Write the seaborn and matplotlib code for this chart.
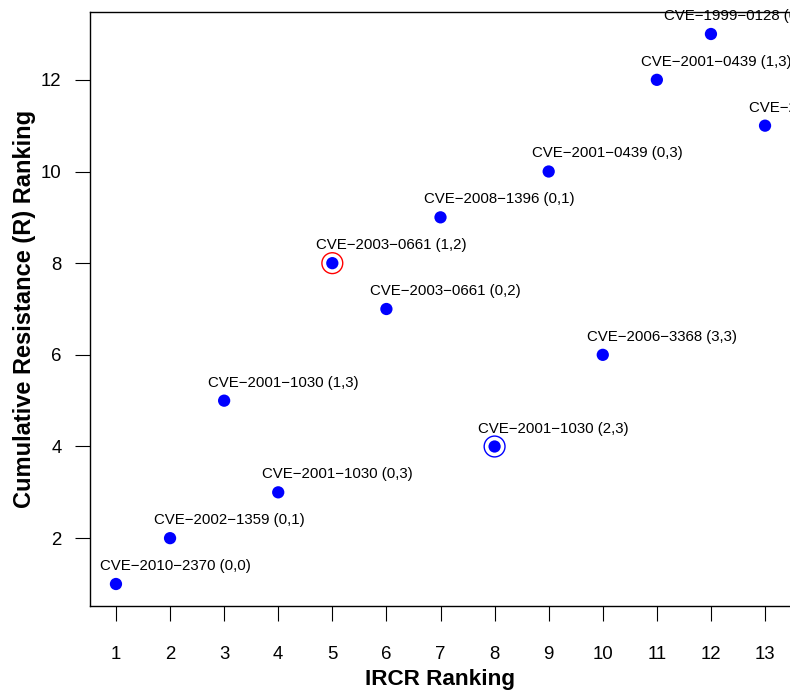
import matplotlib
matplotlib.use("Agg")
import matplotlib.pyplot as plt
import seaborn as sns
import pandas as pd

ircr_rank = [1, 2, 3, 4, 5, 6, 7, 8, 9, 10, 11, 12, 13]
resistance_rank = [1, 2, 5, 3, 8, 7, 9, 4, 10, 6, 12, 13, 11]
labels = [
    "CVE\u22122010\u22122370 (0,0)",
    "CVE\u22122002\u22121359 (0,1)",
    "CVE\u22122001\u22121030 (1,3)",
    "CVE\u22122001\u22121030 (0,3)",
    "CVE\u22122003\u22120661 (1,2)",
    "CVE\u22122003\u22120661 (0,2)",
    "CVE\u22122008\u22121396 (0,1)",
    "CVE\u22122001\u22121030 (2,3)",
    "CVE\u22122001\u22120439 (0,3)",
    "CVE\u22122006\u22123368 (3,3)",
    "CVE\u22122001\u22120439 (1,3)",
    "CVE\u22121999\u22120128 (0,3)(1,3)(2,3)",
    "CVE\u22122002\u22120392 (0,0)",
]
red_ring_x = [5]
red_ring_y = [8]
blue_ring_x = [8]
blue_ring_y = [4]
x_ticks = [1, 2, 3, 4, 5, 6, 7, 8, 9, 10, 11, 12, 13]
y_ticks = [2, 4, 6, 8, 10, 12]

df = pd.DataFrame({"IRCR": ircr_rank, "R": resistance_rank, "label": labels})

sns.set_style("ticks")
plt.rcParams["font.family"] = ["Liberation Sans", "DejaVu Sans"]
plt.rcParams["text.color"] = "black"
plt.rcParams["axes.labelcolor"] = "black"
plt.rcParams["xtick.color"] = "black"
plt.rcParams["ytick.color"] = "black"
plt.rcParams["axes.edgecolor"] = "black"

W, H = 790, 692
fig = plt.figure(figsize=(W / 100, H / 100), dpi=100)
left, right, top, bottom = 90, 791, 12, 606
ax = fig.add_axes([left / W, 1 - bottom / H, (right - left) / W, (bottom - top) / H])

sns.scatterplot(data=df, x="IRCR", y="R", ax=ax, color="#0000ff", s=78,
                edgecolor="none", linewidth=0, zorder=3, legend=False)
ax.scatter(red_ring_x, red_ring_y, s=225, facecolors="none", edgecolors="#ff0000",
           linewidths=1.0, zorder=2)
ax.scatter(blue_ring_x, blue_ring_y, s=225, facecolors="none", edgecolors="#0000ff",
           linewidths=1.0, zorder=2)

for xv, yv, lab in zip(ircr_rank, resistance_rank, labels):
    t = ax.annotate(lab, (xv, yv), xytext=(59 * 0.72, 14 * 0.72),
                    textcoords="offset points", ha="center", va="baseline",
                    fontsize=10.8, color="black", annotation_clip=False)
    t.set_clip_on(True)

ax.set_xlim(0.52, 13.48)
ax.set_ylim(0.52, 13.48)
ax.set_xticks(x_ticks)
ax.set_yticks(y_ticks)
ax.tick_params(axis="both", direction="out", length=10.5, width=0.8,
               labelsize=13.4, color="black", labelcolor="black")
ax.tick_params(axis="x", pad=18.5)
ax.tick_params(axis="y", pad=10)
for sp in ["left", "bottom", "top"]:
    ax.spines[sp].set_visible(True)
    ax.spines[sp].set_linewidth(1.0)
    ax.spines[sp].set_color("black")
ax.spines["right"].set_visible(False)
ax.set_xlabel("")
ax.set_ylabel("")

fig.text(440 / W, 1 - 680 / H, "IRCR Ranking", ha="center", va="center",
         fontsize=16.2, fontweight="bold")
fig.text(25 / W, 1 - 309 / H, "Cumulative Resistance (R) Ranking", ha="center",
         va="center", rotation=90, fontsize=17, fontweight="bold")

fig.savefig("out.png", dpi=100)
